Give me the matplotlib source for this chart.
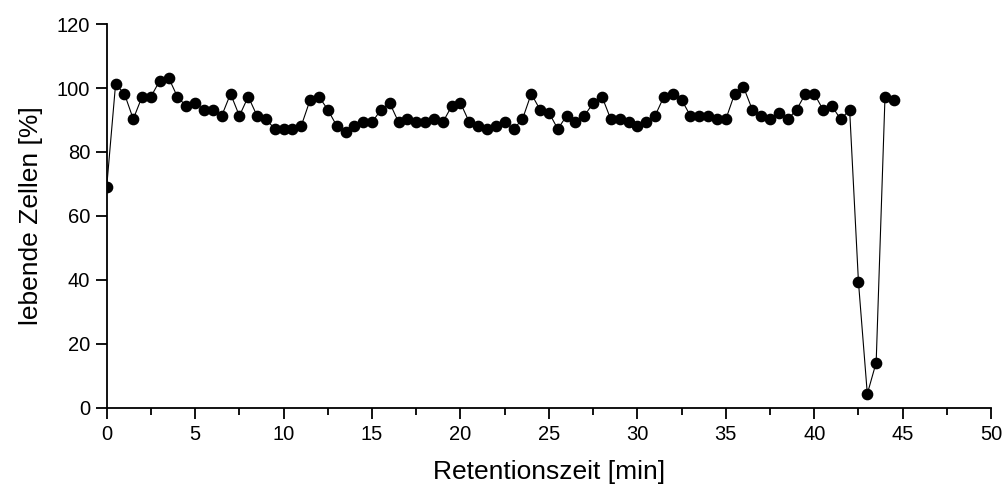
import numpy as np
import matplotlib
matplotlib.use("Agg")
import matplotlib.pyplot as plt
from matplotlib.ticker import MultipleLocator

plt.rcParams['font.family'] = ['Liberation Sans', 'DejaVu Sans']

# Anteil lebender Zellen je Fraktion (alle 0,5 min gesammelt)
lebende_zellen = [
    69.2, 101.2, 98.2, 90.3, 97.3, 97.3, 102.3, 103.2, 97.2, 94.3,
    95.3, 93.2, 93.2, 91.3, 98.2, 91.3, 97.3, 91.3, 90.3, 87.2,
    87.2, 87.2, 88.2, 96.3, 97.3, 93.2, 88.2, 86.3, 88.2, 89.3,
    89.3, 93.2, 95.3, 89.3, 90.2, 89.3, 89.3, 90.2, 89.3, 94.3,
    95.3, 89.3, 88.2, 87.2, 88.2, 89.3, 87.2, 90.2, 98.2, 93.2,
    92.3, 87.2, 91.3, 89.3, 91.3, 95.3, 97.3, 90.2, 90.2, 89.3,
    88.2, 89.3, 91.3, 97.3, 98.2, 96.3, 91.3, 91.3, 91.3, 90.2,
    90.2, 98.2, 100.3, 93.2, 91.3, 90.2, 92.3, 90.2, 93.2, 98.2,
    98.2, 93.2, 94.3, 90.2, 93.2, 39.3, 4.4, 14.2, 97.3, 96.3,
]
zeit_schritt = 0.5
retentionszeit = np.arange(len(lebende_zellen)) * zeit_schritt

x_ticks = [0, 5, 10, 15, 20, 25, 30, 35, 40, 45, 50]
y_ticks = [0, 20, 40, 60, 80, 100, 120]

fig = plt.figure(figsize=(10.05, 4.95), dpi=100)
ax = fig.add_axes([0.1062, 0.1758, 0.8800, 0.7757])

ax.plot(retentionszeit, lebende_zellen, color='black', linewidth=0.8,
        marker='o', markersize=7.4, markerfacecolor='black',
        markeredgecolor='black', zorder=3)

ax.set_xlim(0, 50)
ax.set_ylim(0, 120)
ax.set_xticks(x_ticks)
ax.set_yticks(y_ticks)
ax.xaxis.set_minor_locator(MultipleLocator(2.5))

for side in ('top', 'right'):
    ax.spines[side].set_visible(False)
for side in ('left', 'bottom'):
    ax.spines[side].set_linewidth(1.3)

ax.tick_params(axis='both', which='major', direction='out', length=8,
               width=1.3, labelsize=14.5, pad=4)
ax.tick_params(axis='x', which='minor', direction='out', length=5, width=1.3)

ax.set_xlabel('Retentionszeit [min]', fontsize=19, labelpad=12)
ax.set_ylabel('lebende Zellen [%]', fontsize=19, labelpad=10)

fig.savefig('out.png', dpi=100)
